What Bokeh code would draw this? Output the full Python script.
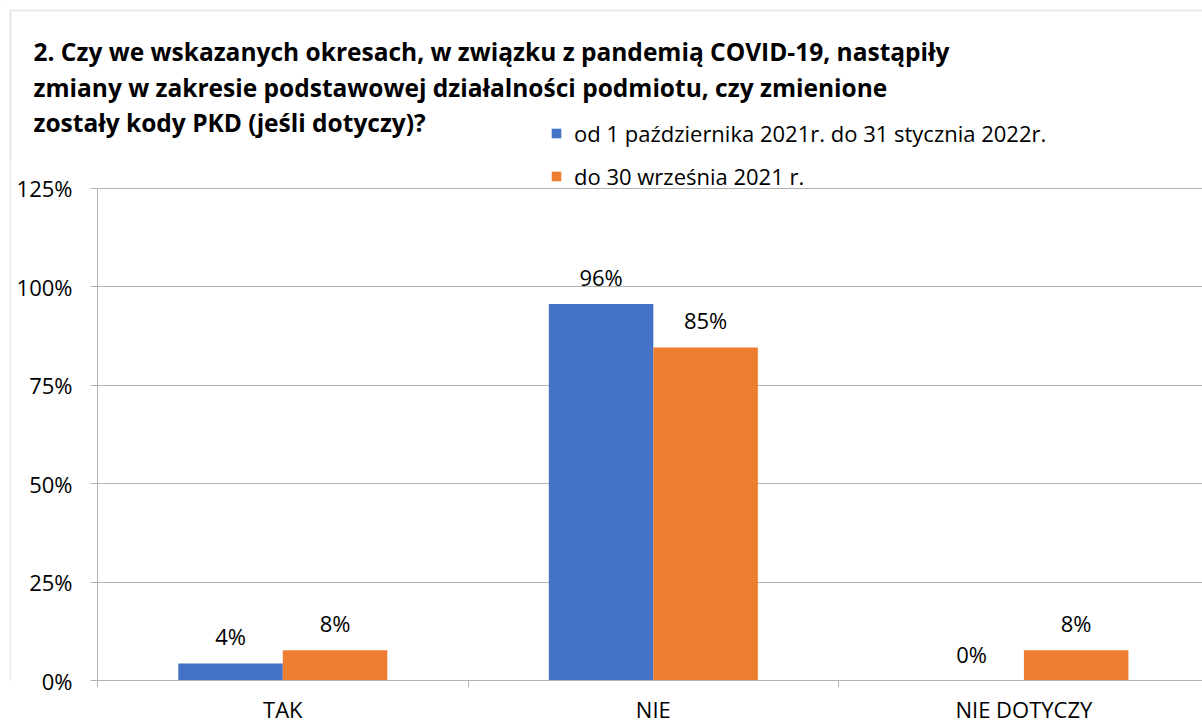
from bokeh.plotting import figure
from bokeh.layouts import column, row
from bokeh.models import (Range1d, FixedTicker, NumeralTickFormatter, ColumnDataSource,
                          LabelSet, Label, Legend, LegendItem, BoxAnnotation)
from bokeh.core.properties import value
from bokeh.transform import dodge
from bokeh.embed import file_html
from bokeh.resources import INLINE

# ---- data ----
categories = ["TAK", "NIE", "NIE DOTYCZY"]
series_names = ["od 1 października 2021r. do 31 stycznia 2022r.", "do 30 września 2021 r."]
values_oct_jan = [0.0435, 0.9565, 0.0]
values_to_sep = [0.0769, 0.8462, 0.0769]
y_ticks = [0, 0.25, 0.5, 0.75, 1.0, 1.25]
title_lines = [
    "2. Czy we wskazanych okresach, w związku z pandemią COVID-19, nastąpiły",
    "zmiany w zakresie podstawowej działalności podmiotu, czy zmienione",
    "zostały kody PKD (jeśli dotyczy)?",
]

BLUE = "#4472C4"
ORANGE = "#ED7D31"
GRID = "#B3B3B3"
BORDER = "#A6A6A6"
FONT = "Open Sans"

W, H = 1202, 726
HEAD_H = 160
STRIP_W = 11
MAIN_W = W - STRIP_W
MAIN_H = H - HEAD_H
PLOT_TOP = 188          # pixel row of the 125% line in the page
PLOT_BOTTOM = 681       # pixel row of the 0% line in the page
Y_MAX = y_ticks[-1]
px_per_unit = (PLOT_BOTTOM - PLOT_TOP) / Y_MAX
y_end = Y_MAX + (PLOT_TOP - HEAD_H) / px_per_unit

pos = [i + 0.5 for i in range(len(categories))]
src = ColumnDataSource(dict(
    x=pos,
    a=values_oct_jan,
    b=values_to_sep,
    a_txt=["{:.0%}".format(v) for v in values_oct_jan],
    b_txt=["{:.0%}".format(v) for v in values_to_sep],
))

# ---------------- header (title + first legend row) ----------------
head = figure(width=W, height=HEAD_H, output_backend="svg", toolbar_location=None,
              x_range=Range1d(0, W), y_range=Range1d(HEAD_H, 0),
              min_border=0, min_border_left=0, min_border_right=0,
              min_border_top=0, min_border_bottom=0)
head.axis.visible = False
head.grid.visible = False
head.outline_line_color = None
head.border_fill_color = "white"
head.background_fill_color = "white"

head.add_layout(BoxAnnotation(left=10, right=W + 100, top=10, bottom=HEAD_H + 100,
                              fill_alpha=0, line_color=BORDER, line_width=1.5))

for i, t in enumerate(title_lines):
    head.add_layout(Label(x=33, y=51 + 35.5 * i, text=t,
                          text_font=FONT, text_font_size="24.5px", text_font_style="bold",
                          text_color="#000000", text_baseline="middle"))

# legend swatch for series 1: same data, drawn through a range that keeps it off the header canvas
head.extra_x_ranges = {"offcanvas": Range1d(1000, 1001)}
h1 = head.vbar(x="x", top="a", width=0.3, source=src, x_range_name="offcanvas",
               fill_color=BLUE, line_color=None)
legend_kw = dict(orientation="vertical", glyph_width=12, glyph_height=12, label_standoff=12,
                 label_text_font=FONT, label_text_font_size="22px", label_text_color="#000000",
                 spacing=15, padding=0, margin=0,
                 border_line_color=None, background_fill_alpha=0)
head.add_layout(Legend(items=[LegendItem(label=series_names[0], renderers=[h1])],
                       location=(550, 12.5), **legend_kw), "center")

# ---------------- left strip (chart border) ----------------
strip = figure(width=STRIP_W, height=MAIN_H, output_backend="svg", toolbar_location=None,
               x_range=Range1d(0, STRIP_W), y_range=Range1d(MAIN_H, 0),
               min_border=0, min_border_left=0, min_border_right=0,
               min_border_top=0, min_border_bottom=0)
strip.axis.visible = False
strip.grid.visible = False
strip.outline_line_color = None
strip.border_fill_color = "white"
strip.add_layout(BoxAnnotation(left=10, right=100, top=-100, bottom=MAIN_H + 100,
                               fill_alpha=0, line_color=BORDER, line_width=1.5))

# ---------------- main chart ----------------
p = figure(width=MAIN_W, height=MAIN_H, output_backend="svg", toolbar_location=None,
           x_range=Range1d(0, 2.982), y_range=Range1d(0, y_end),
           min_border_left=86, min_border_right=0, min_border_top=0,
           min_border_bottom=H - PLOT_BOTTOM)
p.outline_line_color = None
p.background_fill_color = "white"
p.border_fill_color = "white"

bw = 0.282
r1 = p.vbar(x=dodge("x", -bw / 2, range=p.x_range), top="a", width=bw, source=src,
            fill_color=BLUE, line_color=None)
r2 = p.vbar(x=dodge("x", bw / 2, range=p.x_range), top="b", width=bw, source=src,
            fill_color=ORANGE, line_color=None)

lab_kw = dict(text_font=value(FONT), text_font_size=value("22px"), text_color="#000000",
              text_align="center", text_baseline="alphabetic", y_offset=18, source=src)
p.add_layout(LabelSet(x=dodge("x", -bw / 2, range=p.x_range), y="a", text="a_txt", **lab_kw))
p.add_layout(LabelSet(x=dodge("x", bw / 2, range=p.x_range), y="b", text="b_txt", **lab_kw))

# second legend row (series 2), inside the chart just above the 125% line
p.add_layout(Legend(items=[LegendItem(label=series_names[1], renderers=[r2])],
                    location=(453, PLOT_BOTTOM - 192), **legend_kw), "center")

# y axis
yax = p.yaxis[0]
yax.ticker = FixedTicker(ticks=y_ticks)
yax.formatter = NumeralTickFormatter(format="0%")
yax.bounds = (0, Y_MAX)
yax.axis_line_color = GRID
yax.major_tick_line_color = GRID
yax.major_tick_out = 7
yax.major_tick_in = 0
yax.minor_tick_line_color = None
yax.major_label_standoff = 18
yax.major_label_text_font = FONT
yax.major_label_text_font_size = "22px"
yax.major_label_text_color = "#000000"

# x axis
xax = p.xaxis[0]
xax.ticker = FixedTicker(ticks=pos, minor_ticks=list(range(len(categories) + 1)))
xax.major_label_overrides = {pos[i]: categories[i] for i in range(len(categories))}
xax.axis_line_color = GRID
xax.major_tick_line_color = None
xax.major_tick_out = 0
xax.major_tick_in = 0
xax.minor_tick_line_color = GRID
xax.minor_tick_out = 7
xax.minor_tick_in = 0
xax.major_label_standoff = 6
xax.major_label_text_font = FONT
xax.major_label_text_font_size = "22px"
xax.major_label_text_color = "#000000"

p.xgrid.grid_line_color = None
p.ygrid.ticker = FixedTicker(ticks=y_ticks)
p.ygrid.grid_line_color = GRID

layout = column(head, row(strip, p, spacing=0), spacing=0)

open("out.html", "w").write(file_html(layout, INLINE))
